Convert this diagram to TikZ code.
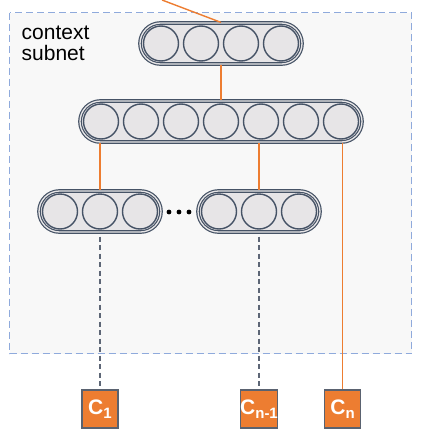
\documentclass[tikz,border=0pt]{standalone}
\usepackage{fontspec}
\setmainfont{Liberation Sans}
\definecolor{orng}{HTML}{ED7D31}
\definecolor{strk}{HTML}{465366}
\definecolor{cfill}{HTML}{E7E5E7}
\definecolor{bgfill}{HTML}{F8F8F8}
\definecolor{bluedash}{HTML}{8FAADC}
\definecolor{grdash}{HTML}{5D6676}
\definecolor{boxedge}{HTML}{5A6270}
\newcommand{\clab}[1]{\fontsize{21}{21}\selectfont\bfseries C\raisebox{-4.5pt}{\fontsize{15}{15}\selectfont #1}}
\begin{document}
\begin{tikzpicture}[x=1pt,y=-1pt,
  pill/.style={draw=strk, line width=1.2pt, double=cfill, double distance=1.3pt, fill=cfill, rounded corners=20.5pt, minimum height=41pt, inner sep=0pt},
  unit/.style={circle, draw=strk, line width=1.4pt, fill=cfill, minimum size=35pt, inner sep=0pt},
  obox/.style={draw=boxedge, line width=1.3pt, fill=orng, minimum width=36pt, minimum height=38pt, inner sep=0pt, text=white},
  oline/.style={orng, line width=1.4pt},
  gline/.style={grdash, line width=1.5pt, dash pattern=on 5pt off 3.5pt},
  dotn/.style={circle, fill=black, minimum size=4.8pt, inner sep=0pt}]
\useasboundingbox (0,0) rectangle (421,439);
% context subnet region
\draw[bluedash, line width=1.5pt, dash pattern=on 7pt off 4pt, fill=bgfill] (9.5,12.5) rectangle (411.5,353.5);
\node[anchor=north west, align=left, font=\fontsize{21}{21.5}\selectfont, inner sep=0pt] (lab) at (21.5,25.5) {context\\subnet};
% pills
\node[pill, minimum width=162pt] (top) at (221,43.5) {};
\node[pill, minimum width=282pt] (mid) at (221,121.5) {};
\node[pill, minimum width=122pt] (lp) at (100,211.5) {};
\node[pill, minimum width=122pt] (rp) at (259,211.5) {};
% units
\foreach \i/\x in {1/161,2/201,3/241,4/281} \node[unit] (t\i) at (\x,43.5) {};
\foreach \i/\x in {1/101,2/141,3/181,4/221,5/261,6/301,7/341} \node[unit] (m\i) at (\x,121.5) {};
\foreach \i/\x in {1/60,2/100,3/140} \node[unit] (l\i) at (\x,211.5) {};
\foreach \i/\x in {1/219,2/259,3/299} \node[unit] (r\i) at (\x,211.5) {};
% dots
\node[dotn] (d1) at (169,212) {};
\node[dotn] (d2) at (179,212) {};
\node[dotn] (d3) at (189,212) {};
% boxes
\node[obox] (c1) at (100,409) {\clab{1}};
\node[obox] (cn1) at (259,409) {\clab{n-1}};
\node[obox] (cn) at (342.5,409) {\clab{n}};
% connectors
\coordinate (in) at (162,0);
\draw[oline] (in) -- (top.north);
\draw[oline] (top.south) -- (mid.north);
\draw[oline] (lp.north |- mid.south) -- (lp.north);
\draw[oline] (rp.north |- mid.south) -- (rp.north);
\draw[oline] (cn.north |- mid.south) -- (cn.north);
\draw[gline, shorten <=4pt] (lp.south) -- (c1.north);
\draw[gline, shorten <=4pt] (rp.south) -- (cn1.north);
\end{tikzpicture}
\end{document}
